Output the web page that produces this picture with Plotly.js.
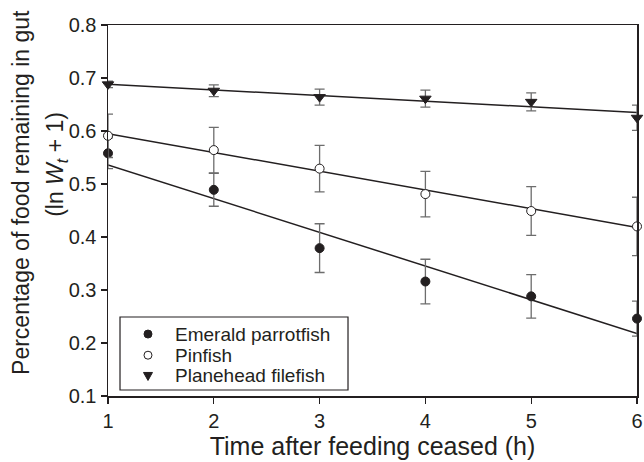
<!DOCTYPE html>
<html>
<head>
<meta charset="utf-8">
<script src="https://cdn.plot.ly/plotly-3.0.1.min.js"></script>
<style>html,body{margin:0;padding:0;background:#fff;}#chart{width:644px;height:462px;}</style>
</head>
<body>
<div id="chart"></div>
<script>
// Data
const time = [1, 2, 3, 4, 5, 6];
const emerald = [0.558, 0.489, 0.379, 0.316, 0.288, 0.246];
const emeraldErr = [0.029, 0.031, 0.046, 0.042, 0.041, 0.033];
const pinfish = [0.591, 0.564, 0.529, 0.481, 0.449, 0.420];
const pinfishErr = [0.041, 0.043, 0.044, 0.043, 0.046, 0.055];
const planehead = [0.688, 0.676, 0.664, 0.661, 0.655, 0.625];
const planeheadErr = [0.006, 0.011, 0.015, 0.016, 0.017, 0.024];
const fitTime = [1, 6];
const emeraldFit = [0.536, 0.218];
const pinfishFit = [0.595, 0.418];
const planeheadFit = [0.688, 0.635];
const seriesNames = ["Emerald parrotfish", "Pinfish", "Planehead filefish"];
const yTicks = [0.1, 0.2, 0.3, 0.4, 0.5, 0.6, 0.7, 0.8];
const xTicks = [1, 2, 3, 4, 5, 6];

const INK = "#231f20";
const FONT = "Liberation Sans, Arial, Helvetica, sans-serif";

function fit(y) {
  return {x: fitTime, y: y, type: "scatter", mode: "lines", showlegend: false,
          hoverinfo: "skip", line: {color: INK, width: 1.5}, cliponaxis: false};
}
function pts(name, y, err, marker) {
  return {x: time, y: y, name: name, type: "scatter", mode: "markers", cliponaxis: false,
          showlegend: false,
          error_y: {type: "data", array: err, visible: true, color: "#6d6d6d", thickness: 1.3, width: 5},
          marker: marker};
}

const data = [
  fit(emeraldFit), fit(pinfishFit), fit(planeheadFit),
  pts(seriesNames[0], emerald, emeraldErr, {symbol: "circle", size: 9, color: INK, line: {color: INK, width: 1}}),
  pts(seriesNames[1], pinfish, pinfishErr, {symbol: "circle", size: 9, color: "#ffffff", line: {color: INK, width: 1}}),
  pts(seriesNames[2], planehead, planeheadErr, {symbol: "triangle-down", size: 10, color: INK, line: {color: INK, width: 1}})
];

// Legend drawn as a boxed key (paper coordinates)
const legendRowsY = [0.167, 0.110, 0.054];
const legendSymX = 0.0756, legendTextX = 0.1229;
const shapes = [
  {type: "rect", xref: "paper", yref: "paper", x0: 0.0227, x1: 0.4537, y0: 0.0162, y1: 0.2129,
   line: {color: INK, width: 1.2}, fillcolor: "#ffffff", layer: "above"},
  {type: "circle", xref: "paper", yref: "paper", xsizemode: "pixel", ysizemode: "pixel",
   xanchor: legendSymX, yanchor: legendRowsY[0], x0: -4, x1: 4, y0: -4, y1: 4,
   fillcolor: INK, line: {color: INK, width: 1}, layer: "above"},
  {type: "circle", xref: "paper", yref: "paper", xsizemode: "pixel", ysizemode: "pixel",
   xanchor: legendSymX, yanchor: legendRowsY[1], x0: -4, x1: 4, y0: -4, y1: 4,
   fillcolor: "#ffffff", line: {color: INK, width: 1}, layer: "above"},
  {type: "path", xref: "paper", yref: "paper", xsizemode: "pixel", ysizemode: "pixel",
   xanchor: legendSymX, yanchor: legendRowsY[2], path: "M-4.5,3.5 L4.5,3.5 L0,-4.5 Z",
   fillcolor: INK, line: {color: INK, width: 1}, layer: "above"}
];

const annotations = [
  {text: "Percentage of food remaining in gut", xref: "paper", yref: "paper",
   x: -0.1645, y: 0.55, xanchor: "center", yanchor: "middle", textangle: -90, showarrow: false,
   font: {family: FONT, size: 23, color: INK}},
  {text: "(ln <i>W</i><sub><i>t</i></sub> + 1)", xref: "paper", yref: "paper",
   x: -0.0964, y: 0.623, xanchor: "center", yanchor: "middle", textangle: -90, showarrow: false,
   font: {family: FONT, size: 23, color: INK}}
];
seriesNames.forEach((n, i) => annotations.push({
  text: n, xref: "paper", yref: "paper", x: legendTextX, y: legendRowsY[i],
  xanchor: "left", yanchor: "middle", showarrow: false,
  font: {family: FONT, size: 19, color: INK}
}));

const layout = {
  width: 644, height: 462,
  margin: {l: 108, r: 7, t: 25, b: 66},
  paper_bgcolor: "#ffffff", plot_bgcolor: "#ffffff",
  font: {family: FONT, color: INK},
  showlegend: false,
  xaxis: {range: [1, 6], tickvals: xTicks, ticktext: xTicks.map(String),
          showgrid: false, zeroline: false, showline: true, linecolor: INK, linewidth: 1.5,
          mirror: true, ticks: "outside", ticklen: 6, tickwidth: 1.2, tickcolor: INK,
          tickfont: {family: FONT, size: 20, color: INK},
          title: {text: "Time after feeding ceased (h)", font: {family: FONT, size: 25, color: INK}, standoff: 6}},
  yaxis: {range: [0.1, 0.8], tickvals: yTicks, ticktext: yTicks.map(v => v.toFixed(1)),
          showgrid: false, zeroline: false, showline: true, linecolor: INK, linewidth: 1.5,
          mirror: true, ticks: "outside", ticklen: 6, tickwidth: 1.2, tickcolor: INK,
          tickfont: {family: FONT, size: 20, color: INK}},
  shapes: shapes,
  annotations: annotations
};

Plotly.newPlot("chart", data, layout, {displayModeBar: false, staticPlot: true});
</script>
</body>
</html>
